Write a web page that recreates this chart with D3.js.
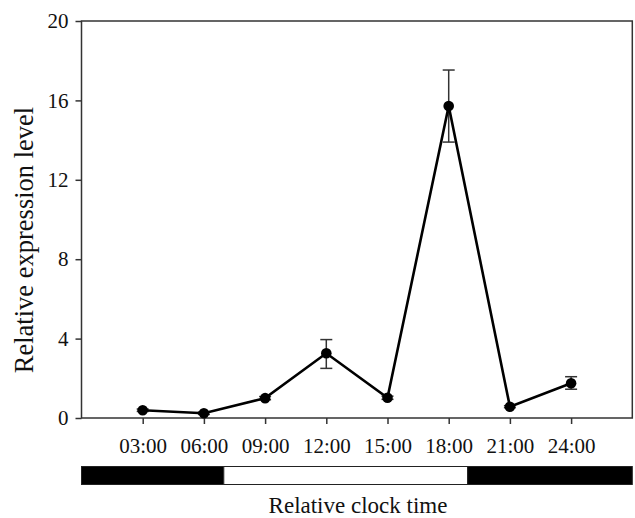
<!DOCTYPE html>
<html><head><meta charset="utf-8">
<script src="https://cdn.jsdelivr.net/npm/d3@7"></script>
<style>body{margin:0;background:#fff}svg{display:block}text{font-family:"Liberation Serif","Times New Roman",serif;fill:#111}</style>
</head><body><svg width="635" height="518"></svg>
<script>
const categories = ["03:00","06:00","09:00","12:00","15:00","18:00","21:00","24:00"];
const values = [0.39, 0.24, 1.0, 3.26, 1.02, 15.72, 0.57, 1.75];
const errHigh = [0.45, 0.3, 1.08, 3.95, 1.1, 17.53, 0.62, 2.08];
const errLow = [0.33, 0.18, 0.92, 2.5, 0.94, 13.9, 0.52, 1.45];
const yTicks = [0, 4, 8, 12, 16, 20];
const lightDark = [{start:0, end:2.325, dark:true},{start:2.325, end:6.31, dark:false},{start:6.31, end:9, dark:true}];

const svg = d3.select("svg");
const L = 81.5, R = 632.3, T = 21, B = 418;
const x = d3.scaleLinear().domain([0, 9]).range([L, R]);
const y = d3.scaleLinear().domain([0, 20]).range([B, T]);
const axisColor = "#333";

// frame
svg.append("rect").attr("x", L).attr("y", T).attr("width", R - L).attr("height", B - T)
  .attr("fill", "none").attr("stroke", axisColor).attr("stroke-width", 1.5);

// y axis
const yAxis = d3.axisLeft(y).tickValues(yTicks).tickSize(6).tickPadding(7);
const gy = svg.append("g").attr("transform", `translate(${L},0)`).call(yAxis);
gy.select(".domain").remove();
gy.selectAll("line").attr("stroke", axisColor).attr("stroke-width", 1.5);
gy.selectAll("text").style("font-size", "21px").style("font-family", '"Liberation Serif", serif').attr("fill", "#111");

// x axis
const xAxis = d3.axisBottom(x).tickValues(categories.map((c, i) => i + 1))
  .tickFormat((d) => categories[d - 1]).tickSize(6);
const gx = svg.append("g").attr("transform", `translate(0,${B})`).call(xAxis);
gx.select(".domain").remove();
gx.selectAll("line").attr("stroke", axisColor).attr("stroke-width", 1.5);
gx.selectAll("text").style("font-size", "21px").style("font-family", '"Liberation Serif", serif')
  .attr("fill", "#111").attr("y", 35).attr("dy", 0);

// error bars
const eb = svg.append("g").attr("stroke", "#333").attr("stroke-width", 1.5);
categories.forEach((c, i) => {
  const cx = x(i + 1);
  eb.append("line").attr("x1", cx).attr("x2", cx).attr("y1", y(errLow[i])).attr("y2", y(errHigh[i]));
  eb.append("line").attr("x1", cx - 6).attr("x2", cx + 6).attr("y1", y(errLow[i])).attr("y2", y(errLow[i]));
  eb.append("line").attr("x1", cx - 6).attr("x2", cx + 6).attr("y1", y(errHigh[i])).attr("y2", y(errHigh[i]));
});

// line
const line = d3.line().x((d, i) => x(i + 1)).y((d) => y(d));
svg.append("path").datum(values).attr("d", line).attr("fill", "none")
  .attr("stroke", "#000").attr("stroke-width", 2.6).attr("stroke-linejoin", "miter");

// points
svg.append("g").selectAll("circle").data(values).join("circle")
  .attr("cx", (d, i) => x(i + 1)).attr("cy", (d) => y(d)).attr("r", 5.3).attr("fill", "#000");

// light/dark bar
const barTop = 466.5, barH = 18;
svg.append("g").selectAll("rect").data(lightDark).join("rect")
  .attr("x", (d) => x(d.start)).attr("width", (d) => x(d.end) - x(d.start))
  .attr("y", barTop).attr("height", barH)
  .attr("fill", (d) => d.dark ? "#000" : "#fff").attr("stroke", "#222").attr("stroke-width", 1);

// axis titles
svg.append("text").attr("x", 358).attr("y", 513).attr("text-anchor", "middle")
  .style("font-size", "23px").text("Relative clock time");
svg.append("text").attr("transform", "translate(33,240) rotate(-90)").attr("text-anchor", "middle")
  .style("font-size", "26.5px").text("Relative expression level");
</script></body></html>
